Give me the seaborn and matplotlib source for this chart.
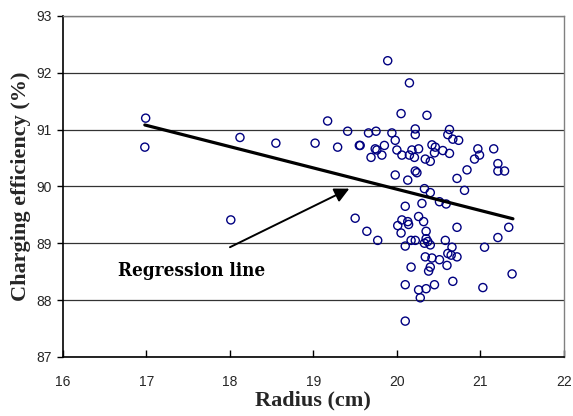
import matplotlib
matplotlib.use("Agg")
import matplotlib.pyplot as plt
import seaborn as sns
import pandas as pd

# Measured samples: radius (cm) vs charging efficiency (%)
radius = [
    19.89, 20.15, 16.99, 16.98, 20.05, 20.36, 19.17, 18.12, 18.55, 19.02,
    19.29, 19.41, 19.66, 19.75, 19.94, 19.98, 19.55, 19.56, 19.74, 19.76,
    19.85, 19.69, 19.82, 20.00, 20.06, 20.15, 20.18, 20.21, 20.26, 20.22,
    20.22, 20.34, 20.40, 20.42, 20.46, 20.45, 20.55, 20.63, 20.61, 20.63,
    20.67, 20.74, 20.97, 20.99, 20.93, 21.16, 21.21, 21.21, 21.29, 20.84,
    20.72, 19.98, 20.13, 20.22, 20.24, 20.81, 20.33, 20.40, 20.51, 20.59,
    20.30, 20.10, 18.01, 19.50, 20.06, 20.13, 20.14, 20.26, 20.32, 20.01,
    20.05, 19.64, 19.77, 20.35, 20.35, 20.72, 21.34, 21.21, 20.17, 20.22,
    20.33, 20.37, 20.40, 20.10, 20.58, 20.66, 21.05, 20.61, 20.65, 20.72,
    20.34, 20.42, 20.51, 20.60, 20.17, 20.40, 20.38, 21.38, 20.67, 20.10,
    20.45, 20.26, 20.35, 21.03, 20.28, 20.10,
]
efficiency = [
    92.21, 91.82, 91.20, 90.69, 91.28, 91.25, 91.15, 90.86, 90.76, 90.76,
    90.69, 90.97, 90.94, 90.97, 90.94, 90.81, 90.72, 90.72, 90.66, 90.64,
    90.72, 90.51, 90.55, 90.64, 90.55, 90.55, 90.64, 90.51, 90.66, 91.01,
    90.91, 90.48, 90.44, 90.73, 90.69, 90.59, 90.63, 90.58, 90.91, 91.00,
    90.83, 90.81, 90.66, 90.55, 90.48, 90.66, 90.40, 90.27, 90.27, 90.29,
    90.14, 90.20, 90.11, 90.27, 90.24, 89.93, 89.96, 89.89, 89.73, 89.69,
    89.70, 89.65, 89.41, 89.44, 89.41, 89.38, 89.33, 89.47, 89.38, 89.31,
    89.18, 89.21, 89.05, 89.21, 89.08, 89.28, 89.28, 89.10, 89.05, 89.05,
    89.00, 89.03, 88.97, 88.95, 89.05, 88.93, 88.93, 88.82, 88.79, 88.76,
    88.76, 88.74, 88.71, 88.61, 88.58, 88.58, 88.51, 88.46, 88.33, 88.27,
    88.27, 88.18, 88.20, 88.22, 88.04, 87.63,
]

# Fitted regression line end points
reg_radius = [16.98, 21.39]
reg_efficiency = [91.08, 89.43]

# Annotation arrow (tail, head) and label
arrow_tail = (18.00, 88.93)
arrow_head = (19.43, 89.96)
label_text = "Regression line"
label_pos = (16.66, 88.52)

x_ticks = [16, 17, 18, 19, 20, 21, 22]
y_ticks = [87, 88, 89, 90, 91, 92, 93]

df = pd.DataFrame({"Radius": radius, "Efficiency": efficiency})
reg_df = pd.DataFrame({"Radius": reg_radius, "Efficiency": reg_efficiency})

sns.set_theme(style="white")
plt.rcParams["font.family"] = ["Liberation Sans", "DejaVu Sans"]

fig = plt.figure(figsize=(5.73, 4.16), dpi=100)
ax = fig.add_axes([0.110, 0.142, 0.874, 0.820])

sns.scatterplot(data=df, x="Radius", y="Efficiency", ax=ax, s=34,
                facecolor="none", edgecolor="#000080", linewidth=1.0,
                marker="o", zorder=3)
sns.lineplot(data=reg_df, x="Radius", y="Efficiency", ax=ax,
             color="black", linewidth=2.3, zorder=4)

ax.annotate("", xy=arrow_head, xytext=arrow_tail,
            arrowprops=dict(arrowstyle="-|>", color="black", lw=1.4,
                            mutation_scale=22, shrinkA=0, shrinkB=0),
            zorder=5)
ax.text(label_pos[0], label_pos[1], label_text, ha="left", va="center",
        fontsize=13.5, fontweight="bold", family="DejaVu Serif",
        fontstretch="condensed", color="black")

ax.set_xlim(16, 22)
ax.set_ylim(87, 93)
ax.set_xticks(x_ticks)
ax.set_yticks(y_ticks)
ax.set_xticklabels([str(t) for t in x_ticks])
ax.set_yticklabels([str(t) for t in y_ticks])

ax.yaxis.grid(True, color="#333333", linewidth=0.9)
ax.xaxis.grid(False)
ax.set_axisbelow(True)

for side in ("left", "bottom"):
    ax.spines[side].set_color("black")
    ax.spines[side].set_linewidth(1.2)
for side in ("top", "right"):
    ax.spines[side].set_color("#808080")
    ax.spines[side].set_linewidth(1.0)

ax.tick_params(axis="x", direction="in", length=5, width=1, color="black",
               labelsize=10, pad=13, bottom=True)
ax.tick_params(axis="y", direction="out", length=4, width=1, color="black",
               labelsize=10, pad=4, left=True)

ax.set_xlabel("Radius (cm)", fontsize=16, fontweight="bold",
              family="Liberation Serif", labelpad=1)
ax.set_ylabel("Charging efficiency (%)", fontsize=16, fontweight="bold",
              family="Liberation Serif", labelpad=4)

fig.savefig("out.png", dpi=100)
